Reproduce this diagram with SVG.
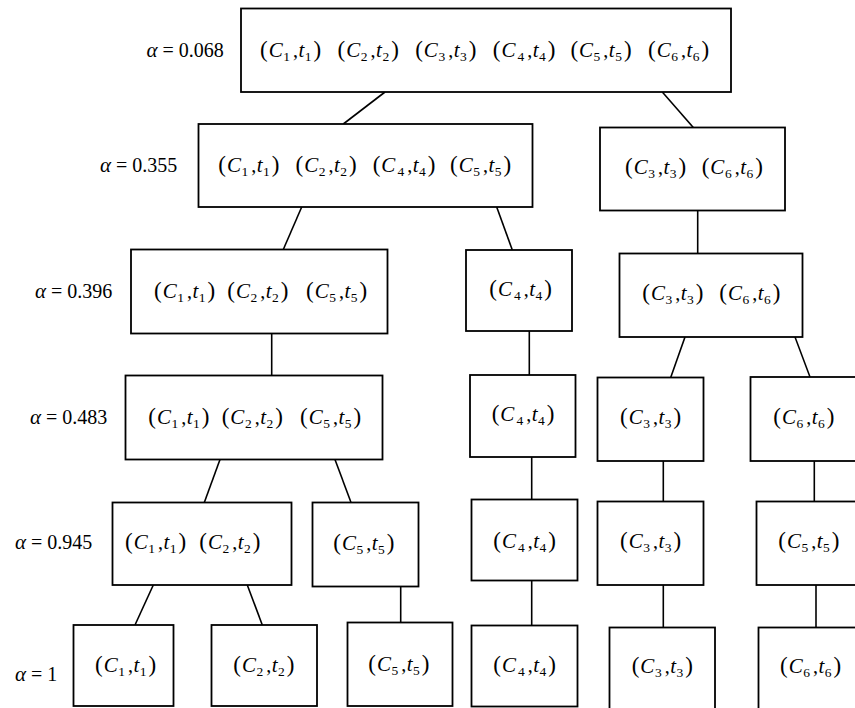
<svg xmlns="http://www.w3.org/2000/svg" width="855" height="708" viewBox="0 0 855 708">
<style>
rect.b { fill: #fff; stroke: #000; stroke-width: 1.8; }
#connectors line { stroke: #000; stroke-width: 1.6; }
text { font-family: "Liberation Serif", "Times New Roman", serif; font-size: 20px; fill: #000; }
.i { font-style: italic; }
.c { font-size: 21px; }
.s { font-size: 13.5px; }
.p { font-size: 23px; }
</style>
<defs>
<g id="p1"><text><tspan class="p">(</tspan><tspan class="i c" dx="1">C</tspan><tspan class="s" dx="0.5" dy="4">1</tspan><tspan dx="3" dy="-4">,</tspan><tspan class="i c" dx="0.5">t</tspan><tspan class="s" dx="0.5" dy="4">1</tspan><tspan class="p" dx="2" dy="-4">)</tspan></text></g>
<g id="p2"><text><tspan class="p">(</tspan><tspan class="i c" dx="1">C</tspan><tspan class="s" dx="0.5" dy="4">2</tspan><tspan dx="3" dy="-4">,</tspan><tspan class="i c" dx="0.5">t</tspan><tspan class="s" dx="0.5" dy="4">2</tspan><tspan class="p" dx="2" dy="-4">)</tspan></text></g>
<g id="p3"><text><tspan class="p">(</tspan><tspan class="i c" dx="1">C</tspan><tspan class="s" dx="0.5" dy="4">3</tspan><tspan dx="3" dy="-4">,</tspan><tspan class="i c" dx="0.5">t</tspan><tspan class="s" dx="0.5" dy="4">3</tspan><tspan class="p" dx="2" dy="-4">)</tspan></text></g>
<g id="p4"><text><tspan class="p">(</tspan><tspan class="i c" dx="1">C</tspan><tspan class="s" dx="2" dy="4">4</tspan><tspan dx="3" dy="-4">,</tspan><tspan class="i c" dx="0.5">t</tspan><tspan class="s" dx="0.5" dy="4">4</tspan><tspan class="p" dx="2" dy="-4">)</tspan></text></g>
<g id="p5"><text><tspan class="p">(</tspan><tspan class="i c" dx="1">C</tspan><tspan class="s" dx="0.5" dy="4">5</tspan><tspan dx="3" dy="-4">,</tspan><tspan class="i c" dx="0.5">t</tspan><tspan class="s" dx="0.5" dy="4">5</tspan><tspan class="p" dx="2" dy="-4">)</tspan></text></g>
<g id="p6"><text><tspan class="p">(</tspan><tspan class="i c" dx="1">C</tspan><tspan class="s" dx="0.5" dy="4">6</tspan><tspan dx="3" dy="-4">,</tspan><tspan class="i c" dx="0.5">t</tspan><tspan class="s" dx="0.5" dy="4">6</tspan><tspan class="p" dx="2" dy="-4">)</tspan></text></g>
</defs>

<g id="labels">
<text x="146.5" y="57"><tspan class="i c">α</tspan> = 0.068</text>
<text x="100" y="172"><tspan class="i c">α</tspan> = 0.355</text>
<text x="35" y="298"><tspan class="i c">α</tspan> = 0.396</text>
<text x="30" y="424"><tspan class="i c">α</tspan> = 0.483</text>
<text x="15" y="549"><tspan class="i c">α</tspan> = 0.945</text>
<text x="15" y="681"><tspan class="i c">α</tspan> = 1</text>
</g>

<g id="connectors">
<line x1="385" y1="92" x2="343.3" y2="124"/>
<line x1="662.3" y1="92" x2="693.3" y2="127.5"/>
<line x1="301.7" y1="207" x2="283.3" y2="249.5"/>
<line x1="496.7" y1="207" x2="512.3" y2="250"/>
<line x1="697.7" y1="210.5" x2="697.7" y2="253.5"/>
<line x1="271.7" y1="333.5" x2="271.7" y2="375.5"/>
<line x1="529.3" y1="331" x2="529.3" y2="375"/>
<line x1="685" y1="337" x2="670.7" y2="377.5"/>
<line x1="795" y1="337" x2="810" y2="377"/>
<line x1="220" y1="459.5" x2="204.3" y2="502.5"/>
<line x1="335" y1="459.5" x2="351" y2="502.5"/>
<line x1="531.7" y1="457" x2="531.7" y2="499.5"/>
<line x1="663.3" y1="461" x2="663.3" y2="501.5"/>
<line x1="814.3" y1="461" x2="814.3" y2="501.5"/>
<line x1="153.3" y1="585" x2="135" y2="625"/>
<line x1="247.3" y1="585" x2="262.3" y2="625"/>
<line x1="400.7" y1="586.5" x2="400.7" y2="622.5"/>
<line x1="531.7" y1="580.5" x2="531.7" y2="625.5"/>
<line x1="663.3" y1="585" x2="663.3" y2="627.5"/>
<line x1="816" y1="585" x2="816" y2="627.5"/>
</g>

<g id="n-r1">
<rect class="b" x="241" y="8.5" width="490" height="83.5"/>
<use href="#p1" x="260" y="57"/><use href="#p2" x="337.6" y="57"/><use href="#p3" x="415.2" y="57"/><use href="#p4" x="492.8" y="57"/><use href="#p5" x="570.4" y="57"/><use href="#p6" x="648" y="57"/>
</g>

<g id="n-r2-a">
<rect class="b" x="198.5" y="124" width="334" height="83"/>
<use href="#p1" x="218.3" y="172"/><use href="#p2" x="295.5" y="172"/><use href="#p4" x="372.7" y="172"/><use href="#p5" x="450" y="172"/>
</g>
<g id="n-r2-b">
<rect class="b" x="600" y="127.5" width="185" height="83"/>
<use href="#p3" x="625" y="174"/><use href="#p6" x="701.7" y="174"/>
</g>

<g id="n-r3-a">
<rect class="b" x="131" y="249.5" width="256.5" height="84"/>
<use href="#p1" x="154" y="298"/><use href="#p2" x="227.3" y="298"/><use href="#p5" x="306" y="298"/>
</g>
<g id="n-r3-b">
<rect class="b" x="466" y="250" width="106" height="81"/>
<use href="#p4" x="489.3" y="296"/>
</g>
<g id="n-r3-c">
<rect class="b" x="619.5" y="253.5" width="183" height="83.5"/>
<use href="#p3" x="642.3" y="300"/><use href="#p6" x="719.3" y="300"/>
</g>

<g id="n-r4-a">
<rect class="b" x="125.5" y="375.5" width="257" height="84"/>
<use href="#p1" x="148.3" y="424"/><use href="#p2" x="221.7" y="424"/><use href="#p5" x="300" y="424"/>
</g>
<g id="n-r4-b">
<rect class="b" x="470" y="375" width="105.5" height="82"/>
<use href="#p4" x="491.7" y="421"/>
</g>
<g id="n-r4-c">
<rect class="b" x="597.5" y="377.5" width="106" height="83.5"/>
<use href="#p3" x="620" y="424"/>
</g>
<g id="n-r4-d">
<rect class="b" x="750.5" y="377" width="112" height="84"/>
<use href="#p6" x="773.3" y="424"/>
</g>

<g id="n-r5-a">
<rect class="b" x="112.5" y="502.5" width="179" height="82.5"/>
<use href="#p1" x="125" y="549"/><use href="#p2" x="199.3" y="549"/>
</g>
<g id="n-r5-b">
<rect class="b" x="312.5" y="502.5" width="106" height="84"/>
<use href="#p5" x="333.3" y="550"/>
</g>
<g id="n-r5-c">
<rect class="b" x="471.5" y="499.5" width="106" height="81"/>
<use href="#p4" x="493.3" y="548"/>
</g>
<g id="n-r5-d">
<rect class="b" x="597.5" y="501.5" width="106" height="83.5"/>
<use href="#p3" x="620" y="548"/>
</g>
<g id="n-r5-e">
<rect class="b" x="756.5" y="501.5" width="110" height="83.5"/>
<use href="#p5" x="778.3" y="548"/>
</g>

<g id="n-r6-a">
<rect class="b" x="73.5" y="625" width="100" height="81"/>
<use href="#p1" x="95" y="672"/>
</g>
<g id="n-r6-b">
<rect class="b" x="211.5" y="625" width="105.5" height="81"/>
<use href="#p2" x="233.3" y="672"/>
</g>
<g id="n-r6-c">
<rect class="b" x="347.5" y="622.5" width="105" height="83.5"/>
<use href="#p5" x="368.3" y="671"/>
</g>
<g id="n-r6-d">
<rect class="b" x="471.5" y="625.5" width="106" height="81"/>
<use href="#p4" x="493.3" y="672"/>
</g>
<g id="n-r6-e">
<rect class="b" x="609.5" y="627.5" width="105.5" height="90"/>
<use href="#p3" x="631.7" y="673"/>
</g>
<g id="n-r6-f">
<rect class="b" x="758.5" y="627.5" width="110" height="90"/>
<use href="#p6" x="780" y="673"/>
</g>
</svg>
